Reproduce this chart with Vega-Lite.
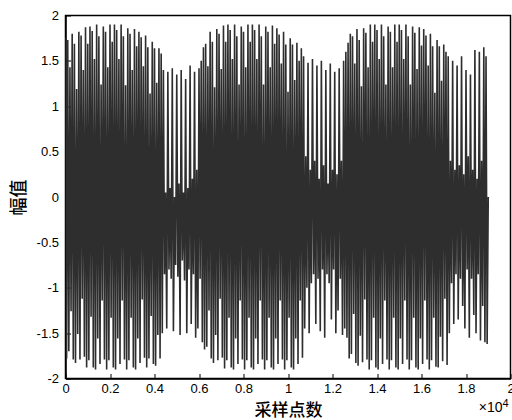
{
"$schema": "https://vega.github.io/schema/vega-lite/v6.json",
"width": 445,
"height": 363,
"autosize": "none",
"padding": {"left": 65.5, "top": 15.5, "right": 1.5, "bottom": 41.5},
"background": "white",
"config": {
  "view": {"stroke": "black", "strokeWidth": 1.5},
  "axis": {"domainColor": "black", "domainWidth": 1.5, "tickColor": "black", "labelColor": "black", "titleColor": "black", "labelFont": "Liberation Sans", "labelFontSize": 13, "titleFont": "Noto Sans CJK SC", "titleFontSize": 18, "titleFontWeight": 500, "grid": false}
},
"layer": [
{
"data": {"values": [
{"x":0,"y":1.76},{"x":50,"y":-1.78},{"x":100,"y":1.73},{"x":150,"y":-1.70},{"x":200,"y":1.43},{"x":250,"y":-1.26},{"x":300,"y":1.80},{"x":350,"y":-1.79},{"x":400,"y":1.69},{"x":450,"y":-1.83},
{"x":500,"y":1.19},{"x":550,"y":-1.51},{"x":600,"y":1.82},{"x":650,"y":-1.79},{"x":700,"y":1.78},{"x":750,"y":-1.12},{"x":800,"y":1.40},{"x":850,"y":-1.76},{"x":900,"y":1.87},{"x":950,"y":-1.88},
{"x":1000,"y":1.69},{"x":1050,"y":-1.80},{"x":1100,"y":1.88},{"x":1150,"y":-1.32},{"x":1200,"y":1.83},{"x":1250,"y":-1.88},{"x":1300,"y":1.52},{"x":1350,"y":-1.9},{"x":1400,"y":1.9},{"x":1450,"y":-1.56},
{"x":1500,"y":1.77},{"x":1550,"y":-1.84},{"x":1600,"y":1.24},{"x":1650,"y":-1.14},{"x":1700,"y":1.88},{"x":1750,"y":-1.79},{"x":1800,"y":1.82},{"x":1850,"y":-1.9},{"x":1900,"y":1.43},{"x":1950,"y":-1.80},
{"x":2000,"y":1.9},{"x":2050,"y":-1.33},{"x":2100,"y":1.71},{"x":2150,"y":-1.88},{"x":2200,"y":1.9},{"x":2250,"y":-1.9},{"x":2300,"y":1.84},{"x":2350,"y":-1.56},{"x":2400,"y":1.52},{"x":2450,"y":-1.84},
{"x":2500,"y":1.9},{"x":2550,"y":-1.14},{"x":2600,"y":1.77},{"x":2650,"y":-1.79},{"x":2700,"y":1.23},{"x":2750,"y":-1.9},{"x":2800,"y":1.86},{"x":2850,"y":-1.80},{"x":2900,"y":1.80},{"x":2950,"y":-1.33},
{"x":3000,"y":1.40},{"x":3050,"y":-1.88},{"x":3100,"y":1.85},{"x":3150,"y":-1.9},{"x":3200,"y":1.66},{"x":3250,"y":-1.56},{"x":3300,"y":1.82},{"x":3350,"y":-1.83},{"x":3400,"y":1.76},{"x":3450,"y":-1.13},
{"x":3500,"y":1.44},{"x":3550,"y":-1.77},{"x":3600,"y":1.78},{"x":3650,"y":-1.88},{"x":3700,"y":1.65},{"x":3750,"y":-1.78},{"x":3800,"y":1.14},{"x":3850,"y":-1.31},{"x":3900,"y":1.71},{"x":3950,"y":-1.84},
{"x":4000,"y":1.64},{"x":4050,"y":-1.86},{"x":4100,"y":1.26},{"x":4150,"y":-1.52},{"x":4200,"y":1.64},{"x":4250,"y":-1.78},{"x":4300,"y":1.58},
{"x":4350,"y":-1.50},{"x":4400,"y":1.40},{"x":4450,"y":-0.85},{"x":4500,"y":0.05},{"x":4550,"y":-1.45},{"x":4600,"y":1.38},{"x":4650,"y":-0.80},{"x":4700,"y":0.10},{"x":4750,"y":-0.90},
{"x":4800,"y":1.42},{"x":4850,"y":-1.48},{"x":4900,"y":0.0},{"x":4950,"y":-0.75},{"x":5000,"y":1.35},{"x":5050,"y":-0.88},{"x":5100,"y":0.15},{"x":5150,"y":-1.52},{"x":5200,"y":1.40},{"x":5250,"y":-0.70},
{"x":5300,"y":0.05},{"x":5350,"y":-0.92},{"x":5400,"y":1.30},{"x":5450,"y":-1.50},{"x":5500,"y":0.10},{"x":5550,"y":-0.80},{"x":5600,"y":1.45},{"x":5650,"y":-1.40},{"x":5700,"y":0.20},{"x":5750,"y":-0.85},
{"x":5800,"y":1.38},{"x":5850,"y":-1.55},{"x":5900,"y":0.30},{"x":5950,"y":-1.45},{"x":6000,"y":1.42},{"x":6050,"y":-0.90},{"x":6100,"y":1.50},{"x":6150,"y":-1.60},
{"x":6200,"y":1.65},{"x":6250,"y":-1.68},{"x":6300,"y":1.69},{"x":6350,"y":-1.65},{"x":6400,"y":1.44},{"x":6450,"y":-1.25},{"x":6500,"y":1.82},{"x":6550,"y":-1.78},{"x":6600,"y":1.71},{"x":6650,"y":-1.83},
{"x":6700,"y":1.21},{"x":6750,"y":-1.52},{"x":6800,"y":1.85},{"x":6850,"y":-1.80},{"x":6900,"y":1.80},{"x":6950,"y":-1.12},{"x":7000,"y":1.41},{"x":7050,"y":-1.77},{"x":7100,"y":1.89},{"x":7150,"y":-1.89},
{"x":7200,"y":1.71},{"x":7250,"y":-1.80},{"x":7300,"y":1.9},{"x":7350,"y":-1.33},{"x":7400,"y":1.84},{"x":7450,"y":-1.88},{"x":7500,"y":1.52},{"x":7550,"y":-1.9},{"x":7600,"y":1.9},{"x":7650,"y":-1.56},
{"x":7700,"y":1.77},{"x":7750,"y":-1.84},{"x":7800,"y":1.24},{"x":7850,"y":-1.14},{"x":7900,"y":1.88},{"x":7950,"y":-1.79},{"x":8000,"y":1.82},{"x":8050,"y":-1.9},{"x":8100,"y":1.43},{"x":8150,"y":-1.80},
{"x":8200,"y":1.9},{"x":8250,"y":-1.33},{"x":8300,"y":1.71},{"x":8350,"y":-1.88},{"x":8400,"y":1.9},{"x":8450,"y":-1.9},{"x":8500,"y":1.84},{"x":8550,"y":-1.56},{"x":8600,"y":1.52},{"x":8650,"y":-1.84},
{"x":8700,"y":1.9},{"x":8750,"y":-1.14},{"x":8800,"y":1.77},{"x":8850,"y":-1.79},{"x":8900,"y":1.24},{"x":8950,"y":-1.9},{"x":9000,"y":1.88},{"x":9050,"y":-1.80},{"x":9100,"y":1.82},{"x":9150,"y":-1.33},
{"x":9200,"y":1.43},{"x":9250,"y":-1.88},{"x":9300,"y":1.89},{"x":9350,"y":-1.9},{"x":9400,"y":1.69},{"x":9450,"y":-1.56},{"x":9500,"y":1.86},{"x":9550,"y":-1.84},{"x":9600,"y":1.79},{"x":9650,"y":-1.14},
{"x":9700,"y":1.47},{"x":9750,"y":-1.79},{"x":9800,"y":1.82},{"x":9850,"y":-1.9},{"x":9900,"y":1.68},{"x":9950,"y":-1.80},{"x":10000,"y":1.16},{"x":10050,"y":-1.33},{"x":10100,"y":1.75},{"x":10150,"y":-1.88},
{"x":10200,"y":1.68},{"x":10250,"y":-1.9},{"x":10300,"y":1.29},{"x":10350,"y":-1.56},{"x":10400,"y":1.70},{"x":10450,"y":-1.84},{"x":10500,"y":1.50},{"x":10550,"y":-1.14},{"x":10600,"y":1.64},{"x":10650,"y":-1.77},
{"x":10700,"y":1.55},{"x":10750,"y":-1.45},{"x":10800,"y":0.45},{"x":10850,"y":-1.0},{"x":10900,"y":1.48},{"x":10950,"y":-1.50},{"x":11000,"y":0.30},{"x":11050,"y":-0.95},{"x":11100,"y":1.52},{"x":11150,"y":-0.85},
{"x":11200,"y":0.40},{"x":11250,"y":-1.40},{"x":11300,"y":1.45},{"x":11350,"y":-0.90},{"x":11400,"y":0.20},{"x":11450,"y":-1.48},{"x":11500,"y":1.50},{"x":11550,"y":-0.80},{"x":11600,"y":0.35},{"x":11650,"y":-1.55},
{"x":11700,"y":1.40},{"x":11750,"y":-0.85},{"x":11800,"y":0.15},{"x":11850,"y":-0.95},{"x":11900,"y":1.47},{"x":11950,"y":-1.35},{"x":12000,"y":0.30},{"x":12050,"y":-0.80},{"x":12100,"y":1.38},{"x":12150,"y":-1.50},
{"x":12200,"y":0.25},{"x":12250,"y":-1.25},{"x":12300,"y":1.42},{"x":12350,"y":-0.90},{"x":12400,"y":0.40},{"x":12450,"y":-1.52},{"x":12500,"y":1.50},{"x":12550,"y":-1.45},{"x":12600,"y":1.60},{"x":12650,"y":-1.55},
{"x":12700,"y":1.70},{"x":12750,"y":-1.78},{"x":12800,"y":1.80},{"x":12850,"y":-1.73},{"x":12900,"y":1.77},{"x":12950,"y":-1.29},{"x":13000,"y":1.47},{"x":13050,"y":-1.83},{"x":13100,"y":1.85},{"x":13150,"y":-1.86},
{"x":13200,"y":1.73},{"x":13250,"y":-1.53},{"x":13300,"y":1.22},{"x":13350,"y":-1.82},{"x":13400,"y":1.86},{"x":13450,"y":-1.13},{"x":13500,"y":1.81},{"x":13550,"y":-1.79},{"x":13600,"y":1.43},{"x":13650,"y":-1.9},
{"x":13700,"y":1.9},{"x":13750,"y":-1.80},{"x":13800,"y":1.71},{"x":13850,"y":-1.33},{"x":13900,"y":1.9},{"x":13950,"y":-1.88},{"x":14000,"y":1.84},{"x":14050,"y":-1.9},{"x":14100,"y":1.52},{"x":14150,"y":-1.56},
{"x":14200,"y":1.9},{"x":14250,"y":-1.84},{"x":14300,"y":1.77},{"x":14350,"y":-1.14},{"x":14400,"y":1.24},{"x":14450,"y":-1.79},{"x":14500,"y":1.88},{"x":14550,"y":-1.9},{"x":14600,"y":1.82},{"x":14650,"y":-1.80},
{"x":14700,"y":1.43},{"x":14750,"y":-1.33},{"x":14800,"y":1.9},{"x":14850,"y":-1.88},{"x":14900,"y":1.71},{"x":14950,"y":-1.9},{"x":15000,"y":1.9},{"x":15050,"y":-1.56},{"x":15100,"y":1.84},{"x":15150,"y":-1.84},
{"x":15200,"y":1.52},{"x":15250,"y":-1.14},{"x":15300,"y":1.9},{"x":15350,"y":-1.79},{"x":15400,"y":1.77},{"x":15450,"y":-1.9},{"x":15500,"y":1.24},{"x":15550,"y":-1.80},{"x":15600,"y":1.88},{"x":15650,"y":-1.33},
{"x":15700,"y":1.81},{"x":15750,"y":-1.88},{"x":15800,"y":1.41},{"x":15850,"y":-1.9},{"x":15900,"y":1.87},{"x":15950,"y":-1.56},{"x":16000,"y":1.67},{"x":16050,"y":-1.84},{"x":16100,"y":1.85},{"x":16150,"y":-1.14},
{"x":16200,"y":1.78},{"x":16250,"y":-1.79},{"x":16300,"y":1.45},{"x":16350,"y":-1.9},{"x":16400,"y":1.80},{"x":16450,"y":-1.80},{"x":16500,"y":1.66},{"x":16550,"y":-1.33},{"x":16600,"y":1.15},{"x":16650,"y":-1.87},
{"x":16700,"y":1.73},{"x":16750,"y":-1.88},{"x":16800,"y":1.66},{"x":16850,"y":-1.54},{"x":16900,"y":1.28},{"x":16950,"y":-1.81},{"x":17000,"y":1.68},{"x":17050,"y":-1.12},{"x":17100,"y":1.60},{"x":17150,"y":-1.85},
{"x":17200,"y":1.55},{"x":17250,"y":-1.50},{"x":17300,"y":0.40},{"x":17350,"y":-0.95},{"x":17400,"y":1.50},{"x":17450,"y":-1.40},{"x":17500,"y":0.30},{"x":17550,"y":-0.85},{"x":17600,"y":1.45},{"x":17650,"y":-1.35},
{"x":17700,"y":0.35},{"x":17750,"y":-0.90},{"x":17800,"y":1.55},{"x":17850,"y":-1.20},{"x":17900,"y":0.25},{"x":17950,"y":-1.45},{"x":18000,"y":1.40},{"x":18050,"y":-0.80},{"x":18100,"y":0.45},{"x":18150,"y":-1.55},
{"x":18200,"y":1.35},{"x":18250,"y":-0.90},{"x":18300,"y":0.30},{"x":18350,"y":-1.30},{"x":18400,"y":1.62},{"x":18450,"y":-1.50},{"x":18500,"y":0.20},{"x":18550,"y":-0.85},{"x":18600,"y":1.60},{"x":18650,"y":-1.58},
{"x":18700,"y":0.40},{"x":18750,"y":-1.20},{"x":18800,"y":1.65},{"x":18850,"y":-1.60},{"x":18900,"y":1.55},{"x":18950,"y":-1.62},{"x":19000,"y":0.0}
]},
"mark": {"type": "line", "color": "#2e2e2e", "strokeWidth": 1.6, "clip": true},
"encoding": {
  "x": {"field": "x", "type": "quantitative", "scale": {"domain": [0, 20000], "nice": false, "zero": false},
        "axis": {"values": [0,2000,4000,6000,8000,10000,12000,14000,16000,18000,20000], "labelExpr": "datum.value/10000 + ''", "title": "采样点数", "tickSize": -5, "labelPadding": 9, "titlePadding": 7, "titleFontSize": 17, "labelFlush": false, "labelOverlap": false}},
  "y": {"field": "y", "type": "quantitative", "scale": {"domain": [-2, 2], "nice": false, "zero": false},
        "axis": {"values": [-2,-1.5,-1,-0.5,0,0.5,1,1.5,2], "labelExpr": "datum.value + ''", "title": "幅值", "tickSize": -5, "labelPadding": 12, "titlePadding": 8, "labelFlush": false, "labelOverlap": false}}
}
},
{
"data": {"values": [{"t": "×10"}]},
"mark": {"type": "text", "align": "right", "baseline": "top", "dx": -8, "dy": 22, "font": "Liberation Sans", "fontSize": 14, "color": "black"},
"encoding": {
  "x": {"datum": 20000, "type": "quantitative"},
  "y": {"datum": -2, "type": "quantitative"},
  "text": {"field": "t"}
}
},
{
"data": {"values": [{"t": "4"}]},
"mark": {"type": "text", "align": "left", "baseline": "top", "dx": -8, "dy": 19, "font": "Liberation Sans", "fontSize": 11, "color": "black"},
"encoding": {
  "x": {"datum": 20000, "type": "quantitative"},
  "y": {"datum": -2, "type": "quantitative"},
  "text": {"field": "t"}
}
}
]
}
